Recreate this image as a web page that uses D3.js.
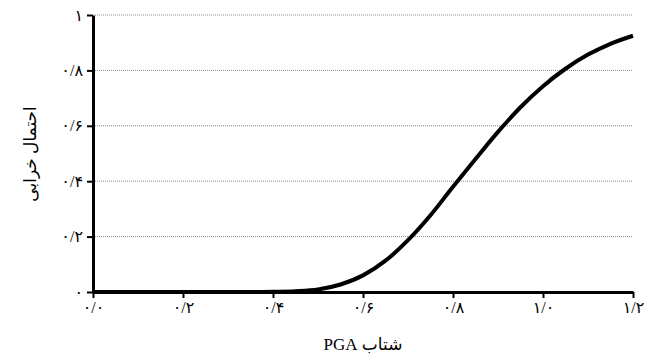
<!DOCTYPE html>
<html>
<head>
<meta charset="utf-8">
<script src="https://cdn.jsdelivr.net/npm/d3@7"></script>
<style>
  body { margin: 0; background: #fff; }
  text { font-family: "Liberation Serif", "DejaVu Sans", serif; }
</style>
</head>
<body>
<div id="chart"></div>
<script>
// DATA
var pga = [0.0, 0.1, 0.2, 0.3, 0.35, 0.4, 0.45, 0.5, 0.55, 0.6, 0.65, 0.7, 0.75,
  0.8, 0.85, 0.9, 0.95, 1.0, 1.05, 1.1, 1.15, 1.2];
var prob = [0, 0, 0, 0, 0, 0.001, 0.003, 0.009, 0.027, 0.06, 0.113, 0.187, 0.277,
  0.38, 0.48, 0.578, 0.667, 0.743, 0.806, 0.857, 0.896, 0.925];
var xTicks = [0, 0.2, 0.4, 0.6, 0.8, 1.0, 1.2];
var xTickLabels = ["۰/۰", "۰/۲", "۰/۴", "۰/۶", "۰/۸", "۱/۰", "۱/۲"];
var yTicks = [0, 0.2, 0.4, 0.6, 0.8, 1];
var yTickLabels = ["۰", "۰/۲", "۰/۴", "۰/۶", "۰/۸", "۱"];
var xTitle = "شتاب PGA";
var yTitle = "احتمال خرابی";

var width = 646, height = 357;
var svg = d3.select("#chart").append("svg")
  .attr("width", width).attr("height", height);

var xScale = d3.scaleLinear().domain([0, 1.2]).range([93, 633]),
  yScale = d3.scaleLinear().domain([0, 1]).range([292, 15]);

// gridlines
svg.append("g")
  .selectAll("line")
  .data(yTicks.slice(1))
  .enter()
  .append("line")
  .attr("x1", xScale(0) + 2)
  .attr("x2", xScale(1.2))
  .attr("y1", function (d) { return yScale(d); })
  .attr("y2", function (d) { return yScale(d); })
  .attr("stroke", "#888")
  .attr("stroke-width", 1)
  .attr("stroke-dasharray", "1,1");

// X-axis
var xAxis = svg.append("g")
  .attr("transform", "translate(0," + yScale(0) + ")")
  .call(d3.axisBottom(xScale)
    .tickValues(xTicks)
    .tickSize(6)
    .tickSizeOuter(0)
    .tickFormat(function (d, i) { return xTickLabels[i]; }));
xAxis.select(".domain").attr("stroke-width", 3);
xAxis.selectAll(".tick line").attr("stroke-width", 2);
xAxis.selectAll(".tick text")
  .attr("y", 10)
  .attr("direction", "ltr")
  .style("font-size", "16px")
  .attr("fill", "#000");

// Y-axis
var yAxis = svg.append("g")
  .attr("transform", "translate(" + xScale(0) + ",0)")
  .call(d3.axisLeft(yScale)
    .tickValues(yTicks)
    .tickSize(6)
    .tickSizeOuter(0)
    .tickFormat(function (d, i) { return yTickLabels[i]; }));
yAxis.select(".domain").attr("stroke-width", 3);
yAxis.selectAll(".tick line").attr("stroke-width", 2);
yAxis.selectAll(".tick text")
  .attr("x", -10)
  .attr("direction", "ltr")
  .style("font-size", "16px")
  .attr("fill", "#000");

// curve
var line = d3.line()
  .x(function (d) { return xScale(d[0]); })
  .y(function (d) { return yScale(d[1]); })
  .curve(d3.curveMonotoneX);

svg.append("path")
  .datum(d3.zip(pga, prob))
  .attr("d", line)
  .attr("fill", "none")
  .attr("stroke", "#000")
  .attr("stroke-width", 4)
  .attr("stroke-linejoin", "round");

// titles
svg.append("text")
  .attr("x", 363)
  .attr("y", 350)
  .attr("text-anchor", "middle")
  .attr("direction", "rtl")
  .style("font-size", "17px")
  .text(xTitle);

svg.append("text")
  .attr("transform", "translate(36,154) rotate(-90)")
  .attr("text-anchor", "middle")
  .attr("direction", "rtl")
  .style("font-size", "17px")
  .text(yTitle);
</script>
</body>
</html>
